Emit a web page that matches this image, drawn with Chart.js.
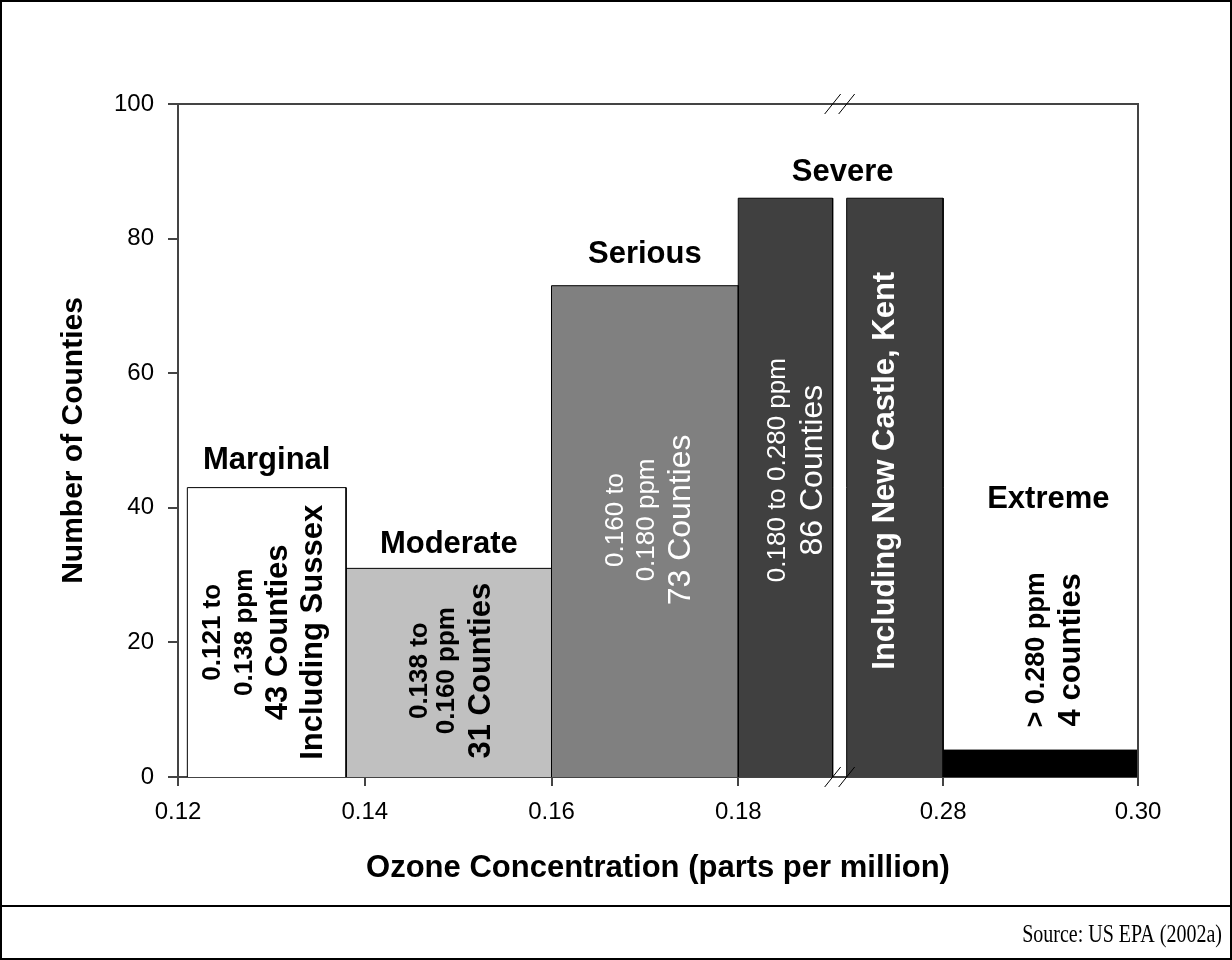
<!DOCTYPE html>
<html>
<head>
<meta charset="utf-8">
<script src="https://cdn.jsdelivr.net/npm/chart.js@4.4.1/dist/chart.umd.min.js"></script>
<style>
  html, body { margin: 0; padding: 0; background: #fff; }
  #wrap { width: 1232px; height: 960px; }
</style>
</head>
<body>
<div id="wrap"><canvas id="myChart" width="1232" height="960"></canvas></div>
<script>
// ozone classes, bin edges in ppm and number of counties
const classes = ['Marginal', 'Moderate', 'Serious', 'Severe', 'Extreme'];
const binStart = [0.121, 0.138, 0.160, 0.180, 0.280];
const binEnd = [0.138, 0.160, 0.180, 0.280, 0.300];
const counties = [43, 31, 73, 86, 4];
const xTicks = [0.12, 0.14, 0.16, 0.18, 0.28, 0.30];
const xTickLabels = ['0.12', '0.14', '0.16', '0.18', '0.28', '0.30'];

const barColors = ['#ffffff', '#c0c0c0', '#808080', '#404040', '#000000'];

// broken x axis: 0.18 .. 0.28 is squeezed into a short stretch
const BREAK_LO = 0.18, BREAK_HI = 0.28;
const POST0 = 0.20194, POST_K = 1.0435;
const GAP_L = 0.19011, GAP_R = 0.19161;
function axisPos(x) {
  if (x <= BREAK_LO) return x;
  if (x >= BREAK_HI) return POST0 + (x - BREAK_HI) * POST_K;
  return BREAK_LO + (x - BREAK_LO) / (BREAK_HI - BREAK_LO) * (POST0 - BREAK_LO);
}

function rect(x0, x1, h) {
  return [{x: x0, y: 0}, {x: x0, y: h}, {x: x1, y: h}, {x: x1, y: 0}];
}

const datasets = [];
classes.forEach(function (c, i) {
  const parts = [];
  if (binStart[i] <= BREAK_LO && binEnd[i] >= BREAK_HI) {
    parts.push([axisPos(binStart[i]), GAP_L]);
    parts.push([GAP_R, axisPos(binEnd[i])]);
  } else {
    parts.push([axisPos(binStart[i]), axisPos(binEnd[i])]);
  }
  parts.forEach(function (p) {
    datasets.push({
      label: c,
      data: rect(p[0], p[1], counties[i]),
      showLine: true,
      fill: 'origin',
      backgroundColor: barColors[i],
      borderColor: '#000',
      borderWidth: 1,
      pointRadius: 0,
      tension: 0
    });
  });
});

const FONT = "'Liberation Sans', Arial, sans-serif";

// text annotations (x in ppm, y in counties)
const headings = [
  {text: 'Marginal', x: 0.1295, y: 47},
  {text: 'Moderate', x: 0.149, y: 34.6},
  {text: 'Serious', x: 0.170, y: 77.7},
  {text: 'Severe', x: null, y: 89.9},
  {text: 'Extreme', x: 0.2908, y: 41.3}
];

const inBar = [
  {x: 0.1295, y: 21.5, color: '#000', lines: [
    ['0.121 to', 'bold 26px', -54], ['0.138 ppm', 'bold 26px', -22],
    ['43 Counties', 'bold 31px', 12], ['Including Sussex', 'bold 31px', 47]]},
  {x: 0.149, y: 15.8, color: '#000', lines: [
    ['0.138 to', 'bold 26px', -29], ['0.160 ppm', 'bold 26px', -2],
    ['31 Counties', 'bold 31px', 33]]},
  {x: 0.170, y: 38.2, color: '#fff', lines: [
    ['0.160 to', '26px', -29], ['0.180 ppm', '26px', 2],
    ['73 Counties', '32px', 36]]},
  {x: 'left', y: 45.6, color: '#fff', lines: [
    ['0.180 to 0.280 ppm', '26px', -8], ['86 Counties', '32px', 28]]},
  {x: 'right', y: 45.5, color: '#fff', lines: [
    ['Including New Castle, Kent', 'bold 31px', -9.5]]},
  {x: 0.29, y: 18.9, color: '#000', lines: [
    ['> 0.280 ppm', 'bold 27px', -4], ['4 counties', 'bold 31px', 31]]}
];

const decor = {
  id: 'decor',
  afterDraw(chart) {
    const ctx = chart.ctx;
    const xs = chart.scales.x, ys = chart.scales.y;
    const a = chart.chartArea;
    ctx.save();

    // top and right edges of the plot box
    ctx.strokeStyle = '#444';
    ctx.lineWidth = 2;
    ctx.beginPath();
    ctx.moveTo(a.left, a.top);
    ctx.lineTo(a.right, a.top);
    ctx.lineTo(a.right, a.bottom);
    ctx.stroke();

    // axis break marks
    const bx = xs.getPixelForValue((GAP_L + GAP_R) / 2);
    ctx.lineWidth = 1;
    ctx.strokeStyle = '#000';
    [a.top, a.bottom].forEach(function (yy) {
      [-7, 7].forEach(function (d) {
        ctx.beginPath();
        ctx.moveTo(bx + d - 8, yy + 10);
        ctx.lineTo(bx + d + 8, yy - 10);
        ctx.stroke();
      });
    });

    // headings above bars
    ctx.fillStyle = '#000';
    ctx.font = 'bold 31px ' + FONT;
    ctx.textAlign = 'center';
    ctx.textBaseline = 'middle';
    headings.forEach(function (h) {
      const hx = h.x === null ? (GAP_L + GAP_R) / 2 : axisPos(h.x);
      ctx.fillText(h.text, xs.getPixelForValue(hx) + (h.x === null ? 3 : 0), ys.getPixelForValue(h.y));
    });

    // rotated labels inside bars
    inBar.forEach(function (b) {
      let vx;
      if (b.x === 'left') vx = (axisPos(BREAK_LO) + GAP_L) / 2;
      else if (b.x === 'right') vx = (GAP_R + axisPos(BREAK_HI)) / 2;
      else vx = axisPos(b.x);
      ctx.save();
      ctx.translate(xs.getPixelForValue(vx), ys.getPixelForValue(b.y));
      ctx.rotate(-Math.PI / 2);
      ctx.fillStyle = b.color;
      b.lines.forEach(function (l) {
        ctx.font = l[1] + ' ' + FONT;
        ctx.fillText(l[0], 0, l[2]);
      });
      ctx.restore();
    });

    // outer frame and source note
    const W = chart.width, H = chart.height;
    ctx.strokeStyle = '#000';
    ctx.lineWidth = 2;
    ctx.strokeRect(1, 1, W - 2, H - 2);
    ctx.beginPath();
    ctx.moveTo(0, 906);
    ctx.lineTo(W, 906);
    ctx.stroke();
    ctx.save();
    ctx.translate(W - 10, 935);
    ctx.scale(1, 1.25);
    ctx.font = "20px 'Liberation Serif', 'Times New Roman', serif";
    ctx.textAlign = 'right';
    ctx.fillText('Source: US EPA (2002a)', 0, 0);
    ctx.restore();
    ctx.restore();
  }
};

const config = {
  type: 'scatter',
  data: {datasets: datasets},
  options: {
    responsive: false,
    animation: false,
    layout: {padding: {top: 104, right: 94, left: 0, bottom: 0}},
    plugins: {legend: {display: false}, tooltip: {enabled: false}, title: {display: false}},
    scales: {
      x: {
        type: 'linear',
        min: 0.12,
        max: axisPos(0.30),
        afterBuildTicks: function (s) {
          s.ticks = xTicks.map(function (v) { return {value: axisPos(v)}; });
        },
        afterFit: function (s) { s.height = 183; },
        ticks: {
          color: '#000',
          font: {family: FONT, size: 24},
          padding: 12,
          maxRotation: 0,
          autoSkip: false,
          callback: function (v, i) { return xTickLabels[i]; }
        },
        grid: {drawOnChartArea: false, color: '#444', lineWidth: 2, tickLength: 9},
        border: {color: '#444', width: 2},
        title: {
          display: true,
          text: 'Ozone Concentration (parts per million)',
          color: '#000',
          font: {family: FONT, size: 31, weight: 'bold'},
          padding: {bottom: 73}
        }
      },
      y: {
        min: 0,
        max: 100,
        afterFit: function (s) { s.width = 178; },
        ticks: {
          stepSize: 20,
          color: '#000',
          font: {family: FONT, size: 24},
          padding: 14
        },
        grid: {drawOnChartArea: false, color: '#444', lineWidth: 2, tickLength: 10},
        border: {color: '#444', width: 2},
        title: {
          display: true,
          text: 'Number of Counties',
          color: '#000',
          font: {family: FONT, size: 30, weight: 'bold'},
          padding: {top: 56}
        }
      }
    }
  },
  plugins: [decor]
};

new Chart(document.getElementById('myChart'), config);
</script>
</body>
</html>
